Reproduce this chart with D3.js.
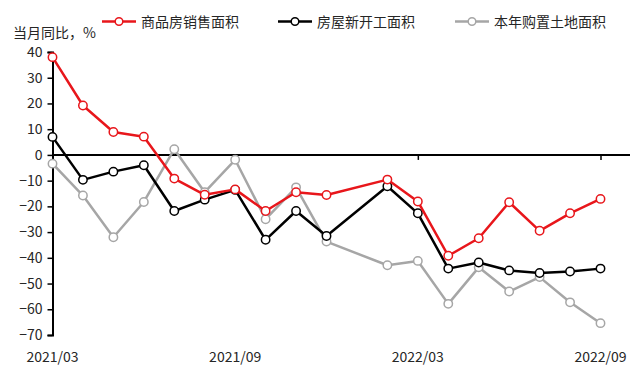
<!DOCTYPE html>
<html><head><meta charset="utf-8">
<script src="https://cdn.jsdelivr.net/npm/d3@7"></script>
<style>body{margin:0;background:#fff}svg{display:block}text{font-family:"Microsoft YaHei","Noto Sans CJK SC",sans-serif}</style>
</head><body><svg id="c" width="640" height="384"></svg>
<script>
const months = ["2021/03","2021/04","2021/05","2021/06","2021/07","2021/08","2021/09","2021/10","2021/11","2021/12","2022/01","2022/02","2022/03","2022/04","2022/05","2022/06","2022/07","2022/08","2022/09"];
const dataMonths = ["2021/03","2021/04","2021/05","2021/06","2021/07","2021/08","2021/09","2021/10","2021/11","2021/12","2022/02","2022/03","2022/04","2022/05","2022/06","2022/07","2022/08","2022/09"];
const sales = [38.0,19.2,8.9,7.1,-9.2,-15.5,-13.4,-21.8,-14.5,-15.6,-9.6,-18.1,-39.2,-32.4,-18.4,-29.5,-22.7,-17.1];
const starts = [7.0,-9.7,-6.5,-4.0,-21.8,-17.4,-13.6,-33.0,-21.8,-31.5,-12.2,-22.7,-44.2,-41.8,-44.9,-45.9,-45.3,-44.2];
const land = [-3.4,-15.8,-32.0,-18.3,2.2,-14.5,-1.9,-25.0,-12.6,-33.7,-42.9,-41.2,-57.9,-43.7,-53.1,-47.5,-57.3,-65.4];
const xTicks = ["2021/03","2021/09","2022/03","2022/09"];
const yTicks = [40,30,20,10,0,-10,-20,-30,-40,-50,-60,-70];
const seriesNames = ["商品房销售面积","房屋新开工面积","本年购置土地面积"];
const colors = ["#e8161b","#000000","#a6a6a6"];

const svg = d3.select("#c");
const x = d3.scalePoint().domain(months).range([52.5,600.5]);
const y = d3.scaleLinear().domain([-70,40]).range([335,52]);

// y axis
const ya = svg.append("g").attr("transform","translate(52.5,0)")
  .call(d3.axisLeft(y).tickValues(yTicks).tickSize(5).tickPadding(5));
ya.select(".domain").attr("stroke","#000").attr("stroke-width",2);
ya.selectAll(".tick line").attr("stroke","#000").attr("stroke-width",1.5);
ya.selectAll(".tick text").attr("font-size",14).attr("fill","#262626").attr("font-family","'Microsoft YaHei','Noto Sans CJK SC',sans-serif");

// x axis at zero
const xa = svg.append("g").attr("transform",`translate(0,${y(0)})`)
  .call(d3.axisBottom(x).tickValues(xTicks).tickSize(5).tickFormat(""));
xa.select(".domain").attr("d",`M52.5,0H630`).attr("stroke","#000").attr("stroke-width",2);
xa.selectAll(".tick line").attr("stroke","#000").attr("stroke-width",1.5);
// x labels at bottom
svg.append("g").selectAll("text").data(xTicks).join("text")
  .attr("x",d=>x(d)).attr("y",362).attr("text-anchor","middle")
  .attr("font-size",14).attr("fill","#262626").text(d=>d);

svg.append("text").attr("x",13).attr("y",38).attr("font-size",14).attr("fill","#262626").text("当月同比，%");

const all = [sales,starts,land];
const line = d3.line().x((d,i)=>x(dataMonths[i])).y(d=>y(d));
[2,1,0].forEach(k=>{
  const g = svg.append("g");
  g.append("path").datum(all[k]).attr("d",line).attr("fill","none")
    .attr("stroke",colors[k]).attr("stroke-width",2.5).attr("stroke-linejoin","round");
  g.selectAll("circle").data(all[k]).join("circle")
    .attr("cx",(d,i)=>x(dataMonths[i])).attr("cy",d=>y(d)).attr("r",4.2)
    .attr("fill","#fff").attr("stroke",colors[k]).attr("stroke-width",1.5);
});

// legend
const lx = [102,278,455];
seriesNames.forEach((n,k)=>{
  const g = svg.append("g").attr("transform",`translate(${lx[k]},21.5)`);
  g.append("line").attr("x1",0).attr("x2",34).attr("stroke",colors[k]).attr("stroke-width",2.5);
  g.append("circle").attr("cx",17).attr("r",3.8).attr("fill","#fff").attr("stroke",colors[k]).attr("stroke-width",1.5);
  g.append("text").attr("x",39).attr("y",5.5).attr("font-size",14).attr("fill","#262626").text(n);
});
</script></body></html>
